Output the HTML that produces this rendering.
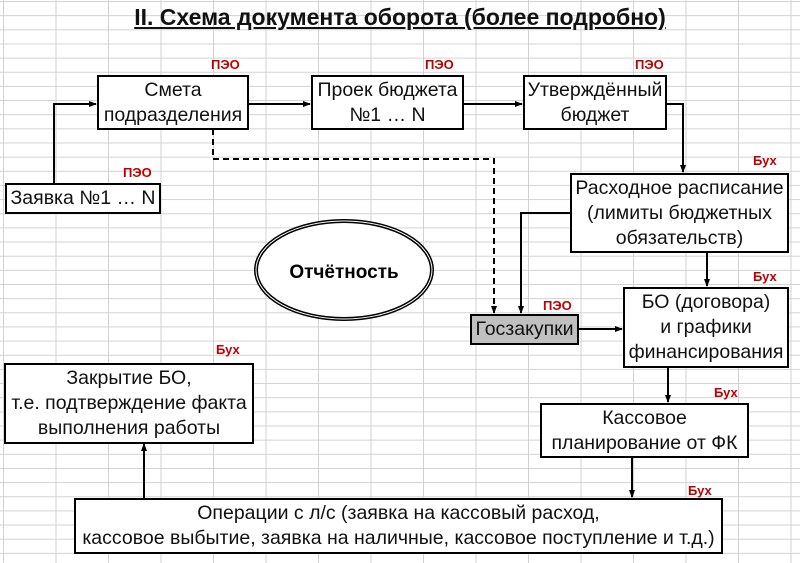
<!DOCTYPE html>
<html><head><meta charset="utf-8"><style>
html,body{margin:0;padding:0;background:#fff}
#c{position:relative;width:800px;height:563px;overflow:hidden;font-family:"Liberation Sans",Arial,sans-serif;}
.b{position:absolute;border:2px solid #000;background:#fff;box-sizing:border-box;display:flex;align-items:center;justify-content:center;text-align:center;font-size:19.5px;line-height:25px;color:#111;white-space:nowrap}
.r{position:absolute;color:#c00000;font-weight:bold;font-size:13px;line-height:14px}
</style></head><body><div id="c">
<svg width="800" height="563" style="position:absolute;left:0;top:0">
<defs>
<pattern id="g" x="3" y="1" width="52.5" height="14.15" patternUnits="userSpaceOnUse">
<line x1="0.5" y1="0" x2="0.5" y2="14.15" stroke="#d2d2d2" stroke-width="1"/>
<line x1="0" y1="0.5" x2="52.5" y2="0.5" stroke="#d2d2d2" stroke-width="1"/>
</pattern>
<marker id="a" markerWidth="8" markerHeight="8" refX="7" refY="4" orient="auto" markerUnits="userSpaceOnUse"><path d="M0,1 L8,4 L0,7 z" fill="#000"/></marker>
</defs>
<rect width="800" height="563" fill="url(#g)"/>
<g stroke="#000" stroke-width="2" fill="none">
<polyline points="54,183 54,104 96,104" marker-end="url(#a)"/>
<line x1="248" y1="104" x2="310" y2="104" marker-end="url(#a)"/>
<line x1="463" y1="104" x2="522" y2="104" marker-end="url(#a)"/>
<polyline points="666,104 683,104 683,172" marker-end="url(#a)"/>
<polyline points="213,129 213,159 494,159 494,313" stroke-dasharray="6,4" marker-end="url(#a)"/>
<polyline points="570,213 521,213 521,313" marker-end="url(#a)"/>
<line x1="707" y1="252" x2="707" y2="286" marker-end="url(#a)"/>
<line x1="578" y1="329" x2="622" y2="329" marker-end="url(#a)"/>
<line x1="668" y1="367" x2="668" y2="402" marker-end="url(#a)"/>
<line x1="632" y1="457" x2="632" y2="497" marker-end="url(#a)"/>
<line x1="144" y1="498" x2="144" y2="444" marker-end="url(#a)"/>
</g>
<ellipse cx="344" cy="270" rx="88" ry="49" fill="#fff" stroke="#000" stroke-width="4"/>
<ellipse cx="344" cy="270" rx="88" ry="49" fill="none" stroke="#fff" stroke-width="1"/>
<text x="344" y="278" text-anchor="middle" font-family="Liberation Sans, Arial, sans-serif" font-weight="bold" font-size="19">Отчётность</text>
</svg>
<div style="position:absolute;left:0;width:800px;top:3px;text-align:center;font-weight:bold;font-size:23px;line-height:28px;text-decoration:underline;color:#111">II. Схема документа оборота (более подробно)</div>
<div class="b" style="left:97px;top:75px;width:152px;height:55px">Смета<br>подразделения</div>
<div class="b" style="left:311px;top:75px;width:153px;height:55px">Проек бюджета<br>№1 … N</div>
<div class="b" style="left:523px;top:75px;width:144px;height:55px">Утверждённый<br>бюджет</div>
<div class="b" style="left:5px;top:183px;width:156px;height:31px">Заявка №1 … N</div>
<div class="b" style="left:570px;top:173px;width:219px;height:80px">Расходное расписание<br>(лимиты бюджетных<br>обязательств)</div>
<div class="b" style="left:470px;top:314px;width:109px;height:31px;background:#c0c0c0">Госзакупки</div>
<div class="b" style="left:623px;top:287px;width:166px;height:81px">БО (договора)<br>и графики<br>финансирования</div>
<div class="b" style="left:4px;top:363px;width:250px;height:81px">Закрытие БО,<br>т.е. подтверждение факта<br>выполнения работы</div>
<div class="b" style="left:540px;top:403px;width:209px;height:55px">Кассовое<br>планирование от ФК</div>
<div class="b" style="left:74px;top:498px;width:649px;height:56px">Операции с л/с (заявка на кассовый расход,<br>кассовое выбытие, заявка на наличные, кассовое поступление и т.д.)</div>
<div class="r" style="left:211px;top:58px">ПЭО</div>
<div class="r" style="left:425px;top:58px">ПЭО</div>
<div class="r" style="left:635px;top:58px">ПЭО</div>
<div class="r" style="left:123px;top:166px">ПЭО</div>
<div class="r" style="left:543px;top:299px">ПЭО</div>
<div class="r" style="left:753px;top:154px">Бух</div>
<div class="r" style="left:753px;top:270px">Бух</div>
<div class="r" style="left:714px;top:386px">Бух</div>
<div class="r" style="left:216px;top:343px">Бух</div>
<div class="r" style="left:688px;top:484px">Бух</div>
</div></body></html>
